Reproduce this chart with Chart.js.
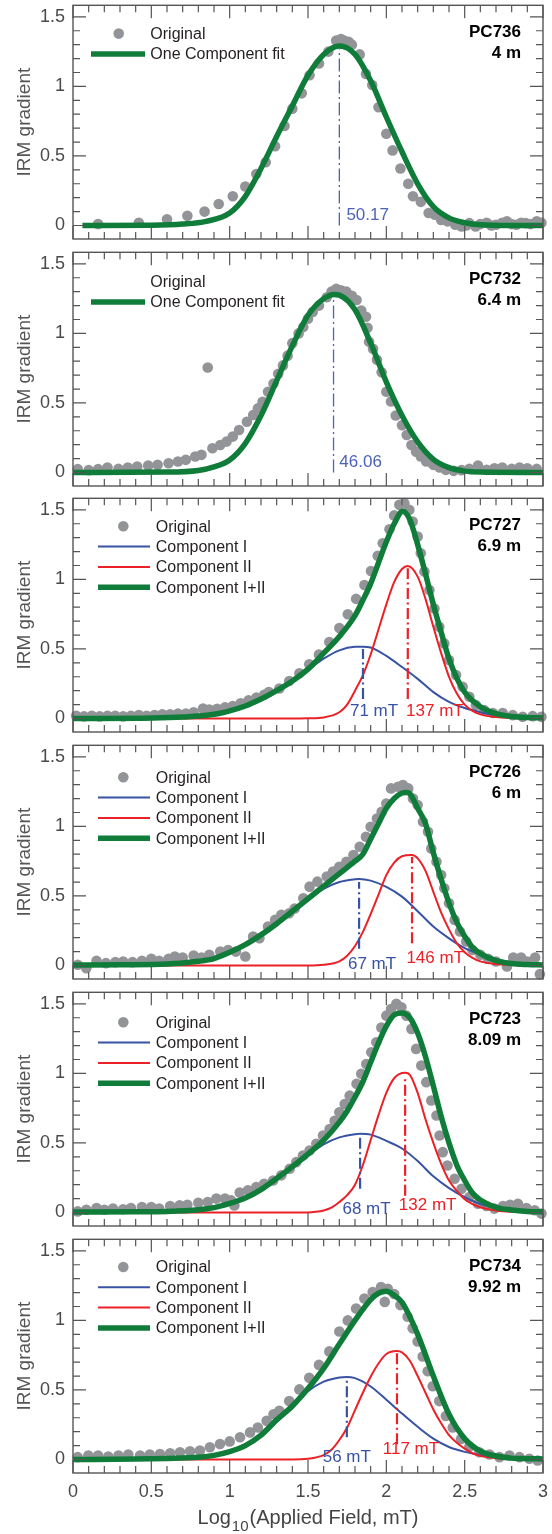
<!DOCTYPE html>
<html>
<head>
<meta charset="utf-8">
<script src="https://cdn.jsdelivr.net/npm/chart.js@4.4.1/dist/chart.umd.min.js"></script>
<style>
html,body{margin:0;padding:0;background:#ffffff;}
#wrap{position:relative;width:552px;height:1534px;overflow:hidden;background:#ffffff;}
#wrap canvas{position:absolute;left:0;}
</style>
</head>
<body>
<div id="wrap"></div>
<script>
// ================= DATA =================
const xTickValues = [0, 0.5, 1, 1.5, 2, 2.5, 3];
const xTickLabels = ['0', '0.5', '1', '1.5', '2', '2.5', '3'];
const yTickValues = [0, 0.5, 1, 1.5];
const yTickLabels = ['0', '0.5', '1', '1.5'];
const sampleNames = ['PC736', 'PC732', 'PC727', 'PC726', 'PC723', 'PC734'];
const sampleDepths = ['4 m', '6.4 m', '6.9 m', '6 m', '8.09 m', '9.92 m'];

// ---- PC736 (4 m) ----
const pc736DotX = [0.16,0.42,0.60,0.73,0.84,0.93,1.02,1.10,1.17,1.23,1.29,1.35,1.40,1.46,1.51,1.57,1.63,1.68,1.71,1.73,1.76,1.78,1.83,1.87,1.91,1.95,2.00,2.04,2.09,2.14,2.17,2.22,2.27,2.31,2.35,2.39,2.44,2.48,2.51,2.53,2.57,2.60,2.64,2.67,2.70,2.74,2.77,2.80,2.83,2.86,2.89,2.92,2.96,2.99];
const pc736DotY = [0.01,0.02,0.045,0.07,0.10,0.155,0.21,0.28,0.37,0.455,0.57,0.715,0.84,0.95,1.08,1.165,1.25,1.33,1.34,1.33,1.32,1.30,1.23,1.09,1.01,0.85,0.66,0.54,0.41,0.30,0.21,0.17,0.09,0.077,0.04,0.03,0.005,-0.007,0.0,0.017,-0.007,0.01,0.02,0.0,0.005,0.02,0.03,0.01,0.005,0.02,0.017,0.01,0.03,0.02];
const pc736FitX = [0.06,0.5,0.7,0.85,1.0,1.1,1.2,1.3,1.4,1.5,1.6,1.7,1.8,1.9,2.0,2.1,2.2,2.3,2.4,2.5,2.6,2.8,3.0];
const pc736FitY = [0,0.002,0.01,0.03,0.09,0.21,0.41,0.64,0.86,1.08,1.23,1.29,1.23,1.04,0.78,0.53,0.30,0.136,0.055,0.02,0.005,0,0];
const pc736PeakX = [1.70];
const pc736PeakLo = [0];
const pc736PeakHi = [1.27];
const pc736PeakText = ['50.17'];

// ---- PC732 (6.4 m) ----
const pc732DotX = [0.03,0.10,0.16,0.22,0.29,0.35,0.41,0.48,0.54,0.61,0.67,0.72,0.78,0.82,0.86,0.89,0.94,0.98,1.02,1.06,1.11,1.15,1.18,1.21,1.245,1.28,1.31,1.34,1.37,1.40,1.44,1.47,1.50,1.53,1.57,1.62,1.65,1.68,1.71,1.745,1.78,1.81,1.84,1.87,1.88,1.89,1.915,1.94,1.97,2.00,2.03,2.06,2.10,2.13,2.16,2.19,2.22,2.255,2.30,2.34,2.38,2.43,2.48,2.53,2.585,2.64,2.69,2.74,2.80,2.85,2.90,2.96];
const pc732DotY = [0.024,0.017,0.024,0.036,0.026,0.036,0.043,0.05,0.055,0.067,0.079,0.091,0.115,0.127,0.755,0.174,0.198,0.222,0.258,0.306,0.365,0.413,0.461,0.509,0.58,0.64,0.71,0.77,0.84,0.93,1.00,1.046,1.106,1.154,1.20,1.26,1.30,1.32,1.31,1.30,1.27,1.24,1.165,1.12,1.04,0.94,0.89,0.81,0.72,0.58,0.51,0.41,0.34,0.27,0.198,0.15,0.115,0.079,0.055,0.036,0.019,0.012,0.017,0.026,0.05,0.019,0.031,0.036,0.026,0.036,0.031,0.026];
const pc732FitX = [0.0,0.6,0.8,0.9,1.0,1.1,1.2,1.3,1.4,1.5,1.6,1.666,1.7,1.8,1.9,2.0,2.1,2.2,2.3,2.4,2.5,2.6,3.0];
const pc732FitY = [0,0.003,0.015,0.04,0.09,0.21,0.41,0.66,0.91,1.13,1.25,1.28,1.275,1.17,0.93,0.65,0.41,0.22,0.095,0.035,0.01,0.003,0];
const pc732PeakX = [1.663];
const pc732PeakLo = [0];
const pc732PeakHi = [1.26];
const pc732PeakText = ['46.06'];

// ---- PC727 (6.9 m) ----
const pc727DotX = [0.02,0.07,0.12,0.17,0.22,0.27,0.32,0.37,0.42,0.47,0.52,0.57,0.62,0.67,0.72,0.77,0.83,0.87,0.92,0.97,1.02,1.07,1.12,1.17,1.22,1.25,1.317,1.38,1.445,1.508,1.57,1.636,1.70,1.754,1.807,1.86,1.902,1.945,1.977,2.02,2.05,2.083,2.115,2.147,2.168,2.20,2.22,2.243,2.275,2.307,2.338,2.37,2.40,2.445,2.487,2.53,2.572,2.626,2.68,2.743,2.807,2.87,2.934,2.99];
const pc727DotY = [0.02,0.015,0.02,0.015,0.02,0.02,0.015,0.02,0.025,0.02,0.025,0.03,0.03,0.035,0.035,0.045,0.072,0.065,0.07,0.08,0.09,0.11,0.13,0.15,0.17,0.19,0.216,0.27,0.325,0.39,0.46,0.55,0.65,0.75,0.86,0.96,1.06,1.17,1.26,1.36,1.46,1.536,1.548,1.50,1.416,1.308,1.188,1.056,0.924,0.79,0.66,0.54,0.42,0.312,0.228,0.156,0.096,0.06,0.04,0.04,0.024,0.012,0.017,0.012];
const pc727C1X = [0.0,0.5,0.7,0.8,0.9,1.0,1.1,1.2,1.3,1.4,1.5,1.6,1.7,1.8,1.851,1.9,2.0,2.1,2.2,2.3,2.4,2.5,2.6,2.7,2.8,2.9,3.0];
const pc727C1Y = [0,0.002,0.008,0.015,0.03,0.05,0.09,0.14,0.20,0.27,0.35,0.43,0.49,0.515,0.516,0.51,0.45,0.37,0.285,0.19,0.12,0.075,0.045,0.022,0.01,0.004,0.002];
const pc727C2X = [0.0,1.4,1.5,1.6,1.7,1.75,1.8,1.85,1.9,1.95,2.0,2.05,2.1,2.137,2.2,2.25,2.3,2.35,2.4,2.45,2.5,2.55,2.6,2.7,2.8,3.0];
const pc727C2Y = [0,0,0.002,0.008,0.045,0.1,0.2,0.31,0.46,0.64,0.82,0.98,1.075,1.097,1.02,0.86,0.66,0.47,0.30,0.18,0.10,0.055,0.03,0.01,0.003,0];
const pc727FitX = [0.0,0.5,0.7,0.9,1.0,1.1,1.2,1.3,1.4,1.5,1.6,1.7,1.8,1.85,1.9,1.95,2.0,2.05,2.105,2.15,2.2,2.25,2.3,2.35,2.4,2.45,2.5,2.6,2.7,2.8,2.9,3.0];
const pc727FitY = [0,0.003,0.01,0.03,0.055,0.09,0.14,0.20,0.27,0.355,0.47,0.59,0.74,0.85,0.97,1.12,1.27,1.40,1.49,1.43,1.25,1.04,0.82,0.62,0.43,0.29,0.19,0.085,0.035,0.015,0.007,0.005];
const pc727PeakX = [1.851, 2.137];
const pc727PeakLo = [0.14, 0.14];
const pc727PeakHi = [0.50, 1.08];
const pc727PeakText = ['71 mT', '137 mT'];

// ---- PC726 (6 m) ----
const pc726DotX = [0.03,0.085,0.15,0.21,0.27,0.32,0.38,0.44,0.50,0.55,0.61,0.65,0.70,0.77,0.82,0.87,0.94,0.99,1.04,1.10,1.15,1.19,1.245,1.29,1.33,1.38,1.415,1.47,1.51,1.56,1.62,1.66,1.70,1.745,1.79,1.83,1.87,1.90,1.94,1.97,2.00,2.03,2.075,2.106,2.14,2.17,2.20,2.234,2.266,2.287,2.32,2.35,2.37,2.40,2.436,2.47,2.51,2.55,2.60,2.65,2.70,2.77,2.81,2.86,2.90,2.95,2.98];
const pc726DotY = [0.005,-0.02,0.033,0.017,0.024,0.029,0.024,0.033,0.048,0.033,0.048,0.065,0.057,0.072,0.057,0.077,0.10,0.112,0.10,0.065,0.208,0.196,0.28,0.328,0.364,0.376,0.41,0.483,0.567,0.603,0.64,0.675,0.71,0.746,0.794,0.854,0.926,0.998,1.057,1.105,1.165,1.273,1.285,1.297,1.273,1.20,1.153,1.033,0.962,0.842,0.746,0.65,0.555,0.447,0.328,0.244,0.172,0.112,0.077,0.048,0.029,-0.007,0.057,0.057,0.029,0.057,-0.062];
const pc726C1X = [0.0,0.4,0.6,0.8,0.9,1.0,1.1,1.2,1.3,1.4,1.5,1.6,1.7,1.8,1.826,1.9,2.0,2.1,2.2,2.3,2.4,2.5,2.6,2.7,2.8,2.9,3.0];
const pc726C1Y = [0,0.005,0.012,0.03,0.05,0.09,0.15,0.22,0.30,0.39,0.47,0.55,0.60,0.62,0.622,0.61,0.565,0.495,0.39,0.28,0.195,0.125,0.08,0.045,0.024,0.012,0.006];
const pc726C2X = [0.0,1.5,1.6,1.7,1.75,1.8,1.85,1.9,1.95,2.0,2.05,2.1,2.164,2.2,2.25,2.3,2.35,2.4,2.45,2.5,2.55,2.6,2.7,2.8,3.0];
const pc726C2Y = [0,0,0.005,0.03,0.07,0.14,0.24,0.37,0.51,0.65,0.74,0.785,0.794,0.77,0.68,0.53,0.38,0.26,0.16,0.095,0.055,0.03,0.01,0.003,0];
const pc726FitX = [0.0,0.3,0.6,0.8,0.9,1.0,1.1,1.2,1.3,1.4,1.5,1.6,1.7,1.8,1.85,1.9,1.95,2.0,2.05,2.1,2.128,2.15,2.2,2.25,2.3,2.35,2.4,2.45,2.5,2.55,2.6,2.7,2.8,2.9,3.0];
const pc726FitY = [0.003,0.005,0.01,0.03,0.05,0.095,0.15,0.22,0.30,0.39,0.48,0.57,0.66,0.75,0.80,0.91,1.02,1.13,1.20,1.24,1.244,1.235,1.13,1.02,0.81,0.62,0.45,0.31,0.21,0.13,0.085,0.035,0.014,0.007,0.004];
const pc726PeakX = [1.826, 2.164];
const pc726PeakLo = [0.12, 0.16];
const pc726PeakHi = [0.60, 0.78];
const pc726PeakText = ['67 mT', '146 mT'];

// ---- PC723 (8.09 m) ----
const pc723DotX = [0.03,0.085,0.15,0.20,0.255,0.32,0.37,0.44,0.50,0.55,0.62,0.68,0.73,0.80,0.86,0.915,0.97,1.01,1.03,1.064,1.117,1.17,1.22,1.277,1.33,1.383,1.425,1.468,1.51,1.553,1.596,1.638,1.67,1.70,1.734,1.766,1.81,1.84,1.872,1.904,1.936,1.968,2.00,2.03,2.064,2.096,2.128,2.16,2.19,2.223,2.255,2.287,2.32,2.34,2.36,2.39,2.436,2.48,2.53,2.585,2.64,2.69,2.745,2.79,2.84,2.894,2.947,2.99];
const pc723DotY = [0.008,0.02,0.032,0.02,0.028,0.023,0.032,0.04,0.04,0.028,0.047,0.051,0.056,0.07,0.075,0.10,0.10,0.087,0.05,0.143,0.16,0.183,0.207,0.23,0.267,0.315,0.362,0.41,0.446,0.494,0.554,0.60,0.66,0.72,0.78,0.84,0.925,0.997,1.068,1.152,1.224,1.33,1.415,1.463,1.50,1.476,1.415,1.32,1.176,1.056,0.937,0.805,0.697,0.554,0.434,0.338,0.243,0.171,0.111,0.063,0.047,0.028,0.047,0.056,0.063,0.032,0.016,-0.008];
const pc723C1X = [0.0,0.4,0.6,0.8,0.9,1.0,1.1,1.2,1.3,1.4,1.5,1.6,1.7,1.8,1.8325,1.9,2.0,2.1,2.2,2.3,2.4,2.5,2.6,2.7,2.8,2.9,3.0];
const pc723C1Y = [0,0.004,0.008,0.02,0.035,0.065,0.105,0.165,0.24,0.32,0.41,0.49,0.54,0.563,0.566,0.56,0.515,0.46,0.37,0.26,0.175,0.11,0.06,0.032,0.016,0.008,0.004];
const pc723C2X = [0.0,1.5,1.55,1.6,1.65,1.7,1.75,1.8,1.85,1.9,1.95,2.0,2.05,2.12,2.15,2.2,2.25,2.3,2.35,2.4,2.45,2.5,2.55,2.6,2.7,2.8,3.0];
const pc723C2Y = [0,0,0.005,0.015,0.035,0.075,0.125,0.20,0.34,0.52,0.70,0.86,0.965,1.004,0.99,0.86,0.67,0.50,0.35,0.23,0.155,0.095,0.06,0.038,0.015,0.005,0];
const pc723FitX = [0.0,0.4,0.6,0.8,0.9,1.0,1.1,1.2,1.3,1.4,1.5,1.6,1.7,1.75,1.8,1.85,1.9,1.95,2.0,2.05,2.1,2.15,2.2,2.25,2.3,2.35,2.4,2.45,2.5,2.55,2.6,2.7,2.8,2.9,3.0];
const pc723FitY = [0.003,0.005,0.008,0.02,0.035,0.065,0.105,0.165,0.245,0.33,0.42,0.52,0.65,0.73,0.83,0.94,1.08,1.22,1.34,1.42,1.435,1.40,1.29,1.12,0.91,0.69,0.50,0.34,0.23,0.14,0.09,0.037,0.018,0.008,0.005];
const pc723PeakX = [1.8325, 2.12];
const pc723PeakLo = [0.17, 0.12];
const pc723PeakHi = [0.545, 0.98];
const pc723PeakText = ['68 mT', '132 mT'];

// ---- PC734 (9.92 m) ----
const pc734DotX = [0.03,0.098,0.16,0.225,0.29,0.353,0.428,0.49,0.555,0.62,0.683,0.747,0.81,0.874,0.938,1.0,1.066,1.13,1.18,1.236,1.28,1.317,1.38,1.445,1.508,1.57,1.636,1.70,1.754,1.807,1.86,1.913,1.966,1.99,2.009,2.05,2.09,2.136,2.168,2.2,2.232,2.264,2.296,2.338,2.38,2.424,2.477,2.53,2.594,2.658,2.722,2.786,2.85,2.913,2.966];
const pc734DotY = [0.017,0.029,0.029,0.021,0.029,0.036,0.029,0.036,0.04,0.045,0.052,0.059,0.064,0.088,0.112,0.13,0.16,0.195,0.23,0.278,0.325,0.35,0.42,0.504,0.587,0.68,0.777,0.92,1.0,1.085,1.157,1.204,1.24,1.133,1.228,1.19,1.11,1.026,0.943,0.848,0.741,0.634,0.527,0.42,0.313,0.23,0.147,0.093,0.052,0.036,0.017,0.029,0.017,0.005,-0.007];
const pc734C1X = [0.0,0.4,0.6,0.8,0.9,1.0,1.1,1.2,1.3,1.4,1.5,1.6,1.7,1.748,1.8,1.9,2.0,2.1,2.2,2.3,2.4,2.5,2.6,2.7,2.8,2.9,3.0];
const pc734C1Y = [0,0.003,0.008,0.017,0.03,0.055,0.10,0.17,0.27,0.37,0.49,0.56,0.59,0.594,0.585,0.525,0.43,0.33,0.235,0.15,0.09,0.055,0.033,0.016,0.008,0.004,0.002];
const pc734C2X = [0.0,1.4,1.5,1.55,1.6,1.65,1.7,1.75,1.8,1.85,1.9,1.95,2.0,2.068,2.1,2.15,2.2,2.25,2.3,2.35,2.4,2.45,2.5,2.55,2.6,2.7,2.8,3.0];
const pc734C2Y = [0,0,0.005,0.015,0.032,0.07,0.14,0.23,0.355,0.48,0.595,0.69,0.758,0.78,0.77,0.71,0.60,0.48,0.36,0.26,0.175,0.12,0.078,0.045,0.026,0.009,0.003,0];
const pc734FitX = [0.0,0.4,0.6,0.8,0.9,1.0,1.1,1.2,1.3,1.4,1.5,1.6,1.7,1.8,1.9,1.95,2.0,2.05,2.1,2.2,2.3,2.4,2.5,2.6,2.7,2.8,2.9,3.0];
const pc734FitY = [0,0.003,0.008,0.017,0.03,0.057,0.10,0.175,0.285,0.385,0.51,0.655,0.83,1.00,1.15,1.195,1.209,1.18,1.13,0.90,0.60,0.325,0.15,0.06,0.025,0.01,0.006,0.004];
const pc734PeakX = [1.748, 2.068];
const pc734PeakLo = [0.16, 0.11];
const pc734PeakHi = [0.58, 0.77];
const pc734PeakText = ['56 mT', '117 mT'];

// ================= STYLE / LAYOUT =================
const FONT = '"Liberation Sans", Arial, Helvetica, sans-serif';
const GREEN = '#107c3a';
const BLUE = '#3953a4';
const BLUE_LIGHT = '#4d63b6';
const RED = '#ec2027';
const DOT = '#929497';
const FRAME = '#555555';
const TICKTXT = '#4a4a4a';

const legendOne = [['dot','Original'],['green','One Component fit']];
const legendOneNoDot = [['none','Original'],['green','One Component fit']];
const legendTwo = [['dot','Original'],['blue','Component I'],['red','Component II'],['green','Component I+II']];

const panels = [
  { dots:[pc736DotX,pc736DotY], fit:[pc736FitX,pc736FitY], c1:null, c2:null,
    peaks:[pc736PeakX,pc736PeakLo,pc736PeakHi,pc736PeakText], peakColors:[BLUE_LIGHT], peakWidth:1.3,
    labelPos:[[1.745,0.036]], legend:legendOne, legendTop:28.3, wide:false },
  { dots:[pc732DotX,pc732DotY], fit:[pc732FitX,pc732FitY], c1:null, c2:null,
    peaks:[pc732PeakX,pc732PeakLo,pc732PeakHi,pc732PeakText], peakColors:[BLUE_LIGHT], peakWidth:1.3,
    labelPos:[[1.70,0.036]], legend:legendOneNoDot, legendTop:29.3, wide:false },
  { dots:[pc727DotX,pc727DotY], fit:[pc727FitX,pc727FitY], c1:[pc727C1X,pc727C1Y], c2:[pc727C2X,pc727C2Y],
    peaks:[pc727PeakX,pc727PeakLo,pc727PeakHi,pc727PeakText], peakColors:[BLUE,RED], peakWidth:2.2,
    labelPos:[[1.768,0.015],[2.126,0.015]], legend:legendTwo, legendTop:28, wide:true },
  { dots:[pc726DotX,pc726DotY], fit:[pc726FitX,pc726FitY], c1:[pc726C1X,pc726C1Y], c2:[pc726C2X,pc726C2Y],
    peaks:[pc726PeakX,pc726PeakLo,pc726PeakHi,pc726PeakText], peakColors:[BLUE,RED], peakWidth:2.2,
    labelPos:[[1.755,-0.026],[2.128,0.017]], legend:legendTwo, legendTop:32, wide:true },
  { dots:[pc723DotX,pc723DotY], fit:[pc723FitX,pc723FitY], c1:[pc723C1X,pc723C1Y], c2:[pc723C2X,pc723C2Y],
    peaks:[pc723PeakX,pc723PeakLo,pc723PeakHi,pc723PeakText], peakColors:[BLUE,RED], peakWidth:2.2,
    labelPos:[[1.72,-0.008],[2.08,0.016]], legend:legendTwo, legendTop:30, wide:true },
  { dots:[pc734DotX,pc734DotY], fit:[pc734FitX,pc734FitY], c1:[pc734C1X,pc734C1Y], c2:[pc734C2X,pc734C2Y],
    peaks:[pc734PeakX,pc734PeakLo,pc734PeakHi,pc734PeakText], peakColors:[BLUE,RED], peakWidth:2.2,
    labelPos:[[1.594,-0.02],[1.977,0.036]], legend:legendTwo, legendTop:27.7, wide:true }
];

const canvasTops = [0, 247, 493, 740, 987, 1234];

function pts(xs, ys) { return xs.map((x, i) => ({ x: x, y: ys[i] })); }

function drawFrame(ctx, ca, x, y) {
  ctx.save();
  ctx.strokeStyle = FRAME;
  ctx.lineWidth = 1.4;
  ctx.strokeRect(ca.left, ca.top, ca.right - ca.left, ca.bottom - ca.top);
  ctx.lineWidth = 1.2;
  ctx.beginPath();
  for (let k = 0; k <= 30; k++) {
    const px = x.getPixelForValue(k / 10);
    const len = (k % 5 === 0) ? 13 : 7;
    ctx.moveTo(px, ca.bottom); ctx.lineTo(px, ca.bottom - len);
    ctx.moveTo(px, ca.top); ctx.lineTo(px, ca.top + len);
  }
  for (let k = 0; k <= 15; k++) {
    const py = y.getPixelForValue(k / 10);
    const len = (k % 5 === 0) ? 13 : 7;
    ctx.moveTo(ca.left, py); ctx.lineTo(ca.left + len, py);
    ctx.moveTo(ca.right, py); ctx.lineTo(ca.right - len, py);
  }
  ctx.stroke();
  ctx.restore();
}

function drawLegend(ctx, ca, p) {
  const rows = p.legend;
  const markX = p.wide ? 123.3 : 118.7;
  const line = p.wide ? [98, 150] : [91, 145];
  const textX = p.wide ? 155.7 : 150.3;
  const step = 20.3;
  ctx.save();
  ctx.font = '16px ' + FONT;
  ctx.textAlign = 'left';
  ctx.textBaseline = 'middle';
  rows.forEach((r, k) => {
    const cy = ca.top + p.legendTop + k * step;
    const kind = r[0];
    if (kind === 'dot') {
      ctx.fillStyle = DOT;
      ctx.beginPath(); ctx.arc(markX, cy, 5.3, 0, Math.PI * 2); ctx.fill();
    } else if (kind !== 'none') {
      ctx.strokeStyle = kind === 'green' ? GREEN : (kind === 'blue' ? BLUE : RED);
      ctx.lineWidth = kind === 'green' ? 5.5 : 2;
      ctx.beginPath(); ctx.moveTo(line[0], cy); ctx.lineTo(line[1], cy); ctx.stroke();
    }
    ctx.fillStyle = '#231f20';
    ctx.fillText(r[1], textX, cy + 1);
  });
  ctx.restore();
}

function makeDeco(i, p) {
  return {
    id: 'deco' + i,
    afterDatasetsDraw(chart) {
      const { ctx, chartArea: ca, scales } = chart;
      drawFrame(ctx, ca, scales.x, scales.y);
    },
    afterDraw(chart) {
      const { ctx, chartArea: ca, scales } = chart;
      const x = scales.x, y = scales.y;
      drawLegend(ctx, ca, p);
      ctx.save();
      ctx.fillStyle = '#000';
      ctx.font = 'bold 17px ' + FONT;
      ctx.textAlign = 'right';
      ctx.textBaseline = 'alphabetic';
      ctx.fillText(sampleNames[i], 521, ca.top + 31.5);
      ctx.fillText(sampleDepths[i], 521, ca.top + 52.5);
      ctx.font = '17px ' + FONT;
      ctx.textAlign = 'left';
      const texts = p.peaks[3];
      texts.forEach((t, k) => {
        ctx.fillStyle = p.peakColors[k];
        ctx.fillText(t, x.getPixelForValue(p.labelPos[k][0]), y.getPixelForValue(p.labelPos[k][1]));
      });
      if (i === 5) {
        const big = '20px ' + FONT, small = '15px ' + FONT;
        ctx.fillStyle = '#444444';
        ctx.font = big; const w1 = ctx.measureText('Log').width;
        ctx.font = small; const w2 = ctx.measureText('10').width;
        ctx.font = big; const w3 = ctx.measureText('(Applied Field, mT)').width;
        const total = w1 + w2 + w3 + 2;
        let sx = (ca.left + ca.right) / 2 - total / 2;
        const base = 290;
        ctx.font = big; ctx.fillText('Log', sx, base); sx += w1 + 1;
        ctx.font = small; ctx.fillText('10', sx, base + 7); sx += w2 + 1;
        ctx.font = big; ctx.fillText('(Applied Field, mT)', sx, base);
      }
      ctx.restore();
    }
  };
}

const wrap = document.getElementById('wrap');

panels.forEach((p, i) => {
  const isLast = i === 5;
  const cv = document.createElement('canvas');
  cv.width = 552;
  cv.height = isLast ? 300 : 246;
  cv.style.top = canvasTops[i] + 'px';
  cv.style.width = '552px';
  cv.style.height = cv.height + 'px';
  wrap.appendChild(cv);

  const datasets = [];
  const pk = p.peaks;
  pk[0].forEach((px, k) => {
    datasets.push({
      data: [{ x: px, y: pk[1][k] }, { x: px, y: pk[2][k] }],
      showLine: true, borderColor: p.peakColors[k], borderWidth: p.peakWidth,
      borderDash: p.peakWidth > 2 ? [11, 3.5, 2, 3.5] : [13, 3.5, 2, 3.5],
      pointRadius: 0, tension: 0, order: -1
    });
  });
  datasets.push({
    data: pts(p.fit[0], p.fit[1]), showLine: true, borderColor: GREEN, borderWidth: 5.5,
    pointRadius: 0, cubicInterpolationMode: 'monotone', order: 0, borderCapStyle: 'butt'
  });
  if (p.c2) {
    datasets.push({
      data: pts(p.c2[0], p.c2[1]), showLine: true, borderColor: RED, borderWidth: 2,
      pointRadius: 0, cubicInterpolationMode: 'monotone', order: 1
    });
  }
  if (p.c1) {
    datasets.push({
      data: pts(p.c1[0], p.c1[1]), showLine: true, borderColor: BLUE, borderWidth: 2,
      pointRadius: 0, cubicInterpolationMode: 'monotone', order: 2
    });
  }
  datasets.push({
    data: pts(p.dots[0], p.dots[1]), showLine: false, pointRadius: 5.3, pointBackgroundColor: DOT,
    pointBorderWidth: 0, pointBorderColor: DOT, order: 5, clip: false
  });

  new Chart(cv, {
    type: 'scatter',
    data: { datasets: datasets },
    options: {
      responsive: false, animation: false, devicePixelRatio: 1, events: [],
      layout: { padding: { left: 0, right: 9, top: 5, bottom: isLast ? 0 : 7 } },
      plugins: { legend: { display: false }, tooltip: { enabled: false } },
      scales: {
        x: {
          type: 'linear', min: 0, max: 3, display: isLast,
          grid: { display: false, drawTicks: false }, border: { display: false },
          afterBuildTicks: s => { s.ticks = xTickValues.map(v => ({ value: v })); },
          ticks: {
            padding: 8, maxRotation: 0, autoSkip: false, color: TICKTXT,
            font: { family: FONT, size: 18 },
            callback: (v, idx) => xTickLabels[idx]
          },
          afterFit: s => {
            s.height = isLast ? 61 : 0;
            s.paddingLeft = 0; s.paddingRight = 0; s.paddingTop = 0; s.paddingBottom = 0;
          }
        },
        y: {
          type: 'linear', min: -0.097, max: 1.583,
          grid: { display: false, drawTicks: false }, border: { display: false },
          afterBuildTicks: s => { s.ticks = yTickValues.map(v => ({ value: v })); },
          ticks: {
            padding: 8, color: TICKTXT, autoSkip: false,
            font: { family: FONT, size: 18 },
            callback: (v, idx) => yTickLabels[idx]
          },
          title: {
            display: true, text: 'IRM gradient', color: '#555555',
            font: { family: FONT, size: 19 }, padding: { top: 13, bottom: 0 }
          },
          afterFit: s => {
            s.width = 73;
            s.paddingLeft = 0; s.paddingRight = 0; s.paddingTop = 0; s.paddingBottom = 0;
          }
        }
      }
    },
    plugins: [makeDeco(i, p)]
  });
});
</script>
</body>
</html>
